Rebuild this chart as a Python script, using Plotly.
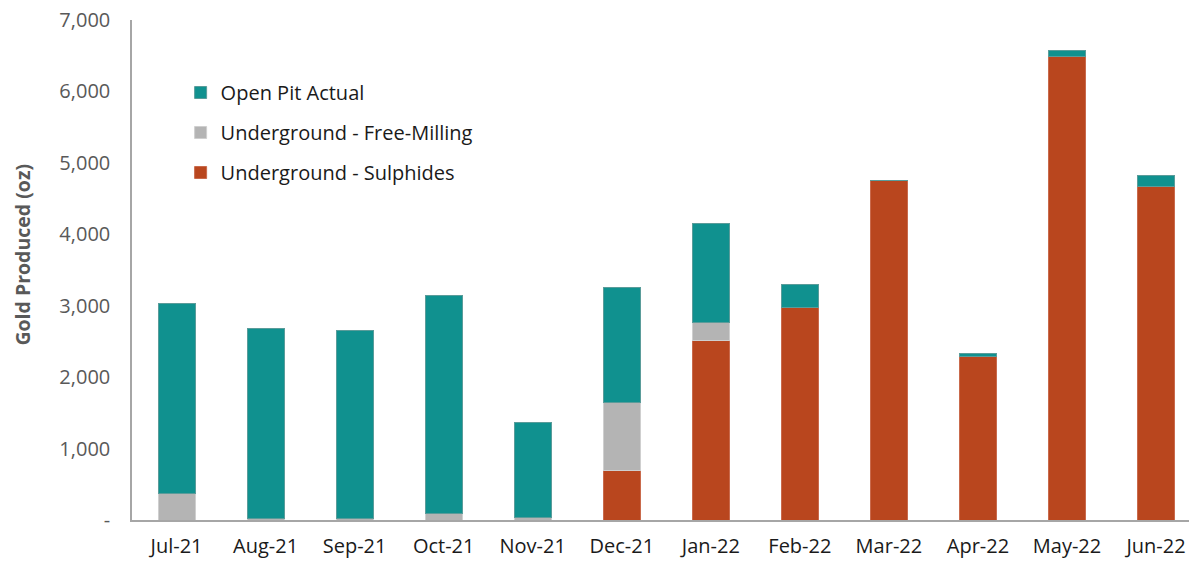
import plotly.graph_objects as go

months = ["Jul-21", "Aug-21", "Sep-21", "Oct-21", "Nov-21", "Dec-21",
          "Jan-22", "Feb-22", "Mar-22", "Apr-22", "May-22", "Jun-22"]
sulphides = [0, 0, 0, 0, 0, 690, 2510, 2980, 4750, 2290, 6490, 4670]
free_milling = [375, 15, 15, 95, 40, 960, 260, 0, 0, 0, 0, 0]
open_pit = [2655, 2665, 2635, 3045, 1320, 1610, 1380, 320, 10, 40, 80, 160]

y_ticks = [0, 1000, 2000, 3000, 4000, 5000, 6000, 7000]
y_tick_text = ["-", "1,000", "2,000", "3,000", "4,000", "5,000", "6,000", "7,000"]

FONT = "Open Sans"
x_idx = list(range(len(months)))

fig = go.Figure()
fig.add_trace(go.Bar(x=x_idx, y=sulphides, name="Underground - Sulphides",
                     legendgroup="c", legendrank=3,
                     marker=dict(color="#b9461e", line=dict(color="#c96a4c", width=1))))
fig.add_trace(go.Bar(x=x_idx, y=free_milling, name="Underground - Free-Milling",
                     legendgroup="b", legendrank=2,
                     marker=dict(color="#b4b4b4", line=dict(color="#cfcfcf", width=1))))
fig.add_trace(go.Bar(x=x_idx, y=open_pit, name="Open Pit Actual",
                     legendgroup="a", legendrank=1,
                     marker=dict(color="#10918f", line=dict(color="#5a9c9a", width=1))))

fig.update_layout(
    barmode="stack",
    bargap=0.585,
    width=1189, height=561,
    margin=dict(l=132, r=0, t=20, b=41, autoexpand=False),
    paper_bgcolor="white", plot_bgcolor="white",
    font=dict(family=FONT, size=20, color="#595959"),
    legend=dict(x=0.046, y=0.894, xanchor="left", yanchor="top",
                traceorder="grouped", tracegroupgap=11,
                font=dict(family=FONT, size=20, color="#1a1a1a"),
                bgcolor="rgba(0,0,0,0)"),
    showlegend=True,
)
fig.update_xaxes(range=[-0.5, 11.37], tickvals=x_idx, ticktext=months,
                 showline=True, linecolor="#a6a6a6", linewidth=1.5,
                 showgrid=False, ticks="", zeroline=False, automargin=False,
                 tickfont=dict(family=FONT, size=20, color="#1a1a1a"),
                 ticklabelstandoff=7)
fig.update_yaxes(range=[0, 7000], tickvals=y_ticks, ticktext=y_tick_text,
                 showline=True, linecolor="#a6a6a6", linewidth=1.5,
                 showgrid=False, ticks="", zeroline=False, automargin=False,
                 tickfont=dict(family=FONT, size=20, color="#595959"),
                 ticklabelstandoff=16,
                 title=dict(text="&nbsp;" * 6 + "<b>Gold Produced (oz)</b>", standoff=24,
                            font=dict(family=FONT, size=19.5, color="#595959")))

fig.write_html("out.html", config={"displayModeBar": False},
               post_script="document.body.style.margin='0';")
